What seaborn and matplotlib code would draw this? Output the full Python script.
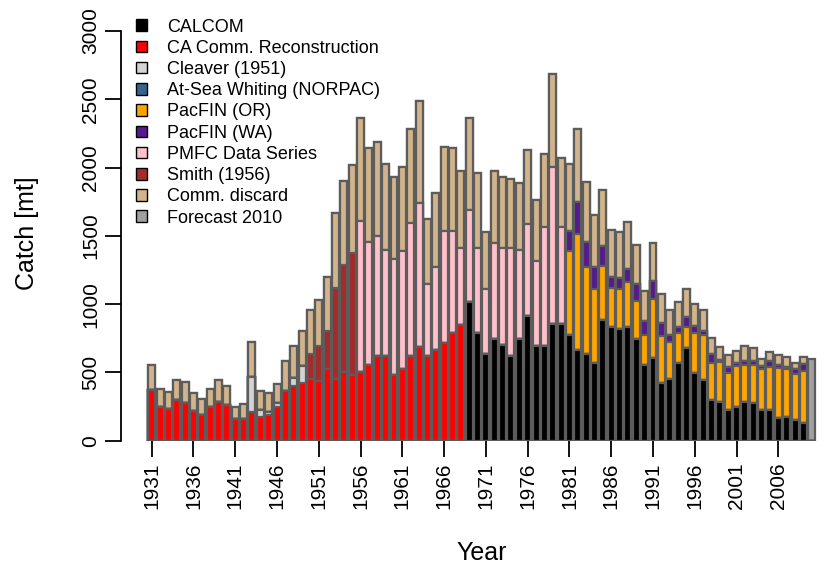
import numpy as np
import pandas as pd
import matplotlib
matplotlib.use("Agg")
import matplotlib.pyplot as plt
from matplotlib.patches import Patch
import seaborn as sns

# ---------------- data ----------------
years = list(range(1931, 2011))

calcom = [0] * 38 + [1017, 786, 635, 742, 700, 620, 742, 913, 693, 693,
                     852, 852, 774, 664, 635, 571, 884, 830, 815, 830,
                     742, 554, 603, 425, 452, 571, 676, 498, 444, 298,
                     285, 225, 244, 285, 278, 225, 225, 164, 171, 152,
                     132] + [0]
ca_recon = [371, 249, 230, 298, 274, 217, 188, 244, 283, 261,
            161, 161, 212, 171, 188, 249, 365, 400, 425, 450,
            435, 523, 449, 505, 481, 505, 554, 620, 620, 481,
            522, 620, 688, 620, 664, 713, 786, 847] + [0] * 42
cleaver = [0] * 12 + [257, 54, 24, 29, 0, 57, 122] + [0] * 61
at_sea = [0] * 80
pacfin_or = [0] * 50 + [615, 849, 639, 537, 397, 290, 293, 334, 283, 220,
                        437, 341, 268, 220, 159, 293, 330, 273, 293, 273,
                        303, 269, 276, 298, 317, 366, 352, 334, 378] + [0]
pacfin_wa = [0] * 50 + [146, 232, 183, 161, 146, 81, 81, 96, 125, 99,
                        129, 98, 54, 44, 68, 51, 31, 64, 13, 39,
                        20, 29, 29, 24, 44, 24, 19, 37, 51] + [0]
pmfc = [0] * 25 + [1103, 903, 878, 776, 849, 867, 976, 1054, 527, 610,
                   822, 749, 566, 672, 622, 473, 708, 713, 793, 654,
                   671, 625, 874, 1154, 710] + [0] * 30
smith = [0] * 19 + [185, 258, 282, 671, 781, 895] + [0] * 55
discard = [183, 129, 129, 146, 158, 130, 115, 132, 161, 142,
           88, 105, 251, 139, 135, 137, 218, 238, 258, 325,
           337, 391, 549, 617, 640, 756, 683, 686, 629, 598,
           612, 686, 745, 474, 537, 617, 610, 561, 671, 549,
           417, 524, 515, 503, 493, 544, 444, 529, 676, 505,
           490, 537, 434, 383, 408, 341, 336, 339, 283, 225,
           280, 210, 183, 178, 207, 159, 152, 119, 93, 90,
           90, 113, 98, 49, 66, 73, 68, 48, 49] + [0]
forecast = [0] * 79 + [596]

series_names = ["CALCOM", "CA Comm. Reconstruction", "Cleaver (1951)",
                "At-Sea Whiting (NORPAC)", "PacFIN (OR)", "PacFIN (WA)",
                "PMFC Data Series", "Smith (1956)", "Comm. discard",
                "Forecast 2010"]
series_vals = [calcom, ca_recon, cleaver, at_sea, pacfin_or, pacfin_wa,
               pmfc, smith, discard, forecast]
series_colors = ["#000000", "#FF0000", "#D3D3D3", "#36648B", "#FFA500",
                 "#551A8B", "#FFC0CB", "#A52A2A", "#D2B48C", "#A0A0A0"]

tick_years = list(range(1931, 2010, 5))

# ---------------- plot ----------------
sns.set_theme(style="white")
plt.rcParams["font.family"] = ["Liberation Sans", "DejaVu Sans"]
plt.rcParams["text.color"] = "black"
plt.rcParams["axes.labelcolor"] = "black"
plt.rcParams["xtick.color"] = "black"
plt.rcParams["ytick.color"] = "black"

W, H = 824, 571
fig = plt.figure(figsize=(W / 100, H / 100), dpi=100)
ax_left, ax_right = 121.5, 824.0
ax_top, ax_bot = 31.0, 440.7
ax = fig.add_axes([ax_left / W, (H - ax_bot) / H,
                   (ax_right - ax_left) / W, (ax_bot - ax_top) / H])

df = pd.DataFrame({"Year": [str(y) for y in years]})
for n, v in zip(series_names, series_vals):
    df[n] = v
cum = df[series_names].cumsum(axis=1)
order = [str(y) for y in years]

edge = "#5C5C5C"
for n, c in reversed(list(zip(series_names, series_colors))):
    sns.barplot(x=df["Year"], y=cum[n], order=order, color=c, saturation=1,
                edgecolor=edge, linewidth=1.6, width=0.833, errorbar=None,
                ax=ax)

px_per_year = 8.355
left_units = (151.7 - ax_left) / px_per_year
ax.set_xlim(-left_units, -left_units + (ax_right - ax_left) / px_per_year)
ax.set_ylim(0, 3000)

tick_pos = [years.index(y) for y in tick_years]
ax.set_xticks(tick_pos)
ax.set_xticklabels([str(y) for y in tick_years], rotation=90, fontsize=15,
                   color="black")
ax.set_yticks([0, 500, 1000, 1500, 2000, 2500, 3000])
ax.set_yticklabels(["0", "500", "1000", "1500", "2000", "2500", "3000"],
                   fontsize=15, color="black")
for lbl in ax.get_yticklabels():
    lbl.set_rotation(90)
    lbl.set_va("center")
    lbl.set_ha("right")
ax.tick_params(axis="both", which="major", length=11.5, width=1.3,
               color="black", direction="out", pad=4, bottom=True, left=True)
ax.set_xlabel("")
ax.set_ylabel("")

for s in ["top", "right", "bottom"]:
    ax.spines[s].set_visible(False)
ax.spines["left"].set_color("black")
ax.spines["left"].set_linewidth(1.3)
ax.spines["left"].set_bounds(0, 3000)
ax.grid(False)
ax.set_facecolor("white")

fig.text(482 / W, 1 - 553 / H, "Year", ha="center", va="center",
         fontsize=18, color="black")
fig.text(27 / W, 1 - 233 / H, "Catch [mt]", ha="center", va="center",
         rotation=90, fontsize=18, color="black")

handles = [Patch(facecolor=c, edgecolor="black", linewidth=1.0)
           for c in series_colors]
leg = fig.legend(handles, series_names, loc="upper left",
                 bbox_to_anchor=(136 / W, 1 - 18.5 / H), frameon=False,
                 fontsize=13, borderpad=0, borderaxespad=0,
                 labelspacing=0.235, handlelength=0.62, handleheight=0.62,
                 handletextpad=1.1)
for t in leg.get_texts():
    t.set_color("black")

fig.savefig("out.png", dpi=100)
